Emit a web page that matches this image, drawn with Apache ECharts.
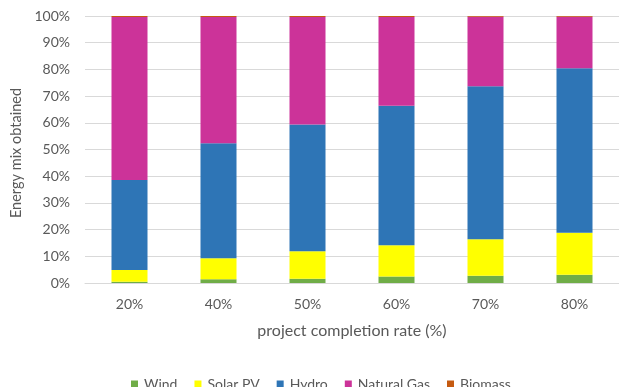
<!DOCTYPE html>
<html>
<head>
<meta charset="utf-8">
<script src="https://cdn.jsdelivr.net/npm/echarts@6/dist/echarts.min.js"></script>
<style>
  html, body { margin: 0; padding: 0; background: #fff; }
  #chart { width: 619px; height: 387px; }
</style>
</head>
<body>
<div id="chart"></div>
<script>
// Completion-rate scenarios on the x axis
const categories = ['20%', '40%', '50%', '60%', '70%', '80%'];

// Share of each source in the obtained energy mix (%)
const wind       = [0.5, 1.4, 1.6, 2.4, 2.7, 3.1];
const solarPV    = [4.4, 7.85, 10.3, 11.7, 13.7, 15.7];
const hydro      = [33.7, 43.05, 47.5, 52.3, 57.3, 61.6];
const naturalGas = [61.0, 47.3, 40.2, 33.2, 26.0, 19.3];
const biomass    = [0.4, 0.4, 0.4, 0.4, 0.3, 0.3];

const seriesNames  = ['Wind', 'Solar PV', 'Hydro', 'Natural Gas', 'Biomass'];
const seriesData   = [wind, solarPV, hydro, naturalGas, biomass];
const seriesColors = ['#70AD47', '#FFFF00', '#2E75B6', '#CC3399', '#C55A11'];

const yTicks = [0, 10, 20, 30, 40, 50, 60, 70, 80, 90, 100];

const FONT = 'Lato, "Open Sans", sans-serif';
const TEXT = '#595959';

const chart = echarts.init(document.getElementById('chart'), null, { renderer: 'canvas' });

chart.setOption({
  animation: false,
  backgroundColor: '#ffffff',
  textStyle: { fontFamily: FONT },
  grid: { left: 85, right: -5, top: 16, bottom: 104, containLabel: false },
  legend: {
    data: seriesNames,
    left: 126,
    top: 372,
    icon: 'rect',
    itemWidth: 7,
    itemHeight: 7,
    itemGap: 17,
    textStyle: { color: TEXT, fontSize: 14, fontFamily: FONT, padding: [0, 0, 0, 1] }
  },
  xAxis: {
    type: 'category',
    data: categories,
    name: 'project completion rate (%)',
    nameLocation: 'middle',
    nameGap: 40,
    nameTextStyle: { color: TEXT, fontSize: 16, fontFamily: FONT },
    axisLine: { lineStyle: { color: '#d9d9d9', width: 1 } },
    axisTick: { show: false },
    axisLabel: { color: TEXT, fontSize: 14, margin: 14, fontFamily: FONT }
  },
  yAxis: {
    type: 'value',
    min: yTicks[0],
    max: yTicks[yTicks.length - 1],
    interval: 10,
    name: 'Energy mix obtained',
    nameLocation: 'middle',
    nameRotate: 90,
    nameGap: 56,
    nameTextStyle: { color: TEXT, fontSize: 14.5, fontFamily: FONT, padding: [0, 7, 0, 0] },
    axisLine: { show: false },
    axisTick: { show: false },
    splitLine: { lineStyle: { color: '#d9d9d9', width: 1 } },
    axisLabel: { color: TEXT, fontSize: 14, margin: 15, fontFamily: FONT, formatter: v => v + '%' }
  },
  series: seriesNames.map((name, i) => ({
    name: name,
    type: 'bar',
    stack: 'mix',
    barWidth: 36,
    data: seriesData[i],
    itemStyle: { color: seriesColors[i] }
  }))
});
</script>
</body>
</html>
